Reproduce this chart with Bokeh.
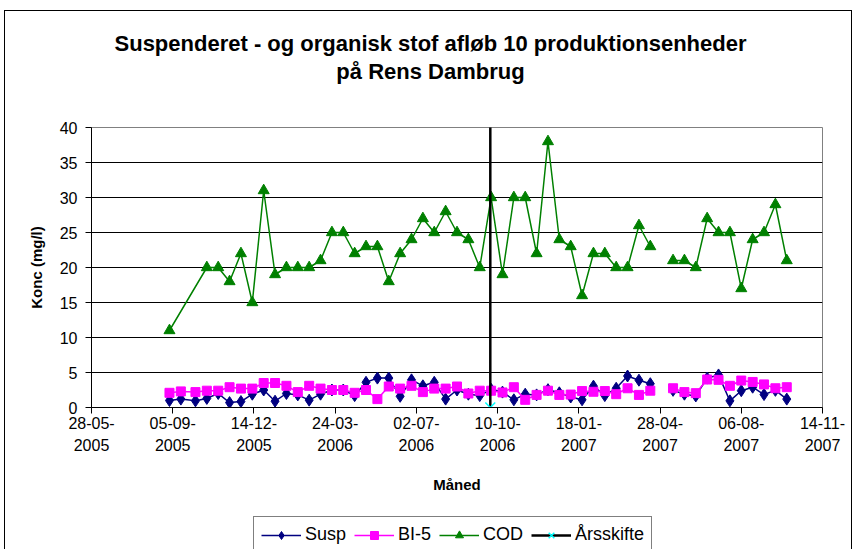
import numpy as np
import pandas as pd
from bokeh.plotting import figure
from bokeh.layouts import column
from bokeh.models import (ColumnDataSource, FixedTicker, DatetimeTickFormatter, Legend,
                          LegendItem, Label, Range1d)
from bokeh.embed import file_html
from bokeh.resources import INLINE

# ---------------- data ----------------
early_dates = ["2005-09-01", "2005-09-15"]
reg_dates = [d.strftime("%Y-%m-%d") for d in pd.date_range("2005-10-03", periods=53, freq="14D")]
sample_dates = early_dates + reg_dates

susp = [1.0, 1.2,
        0.95, 1.3, 2.0, 0.7, 0.85, 1.9, 2.5, 0.9, 2.0, 1.8, 1.05, 1.9, 2.5, 2.5, 1.7, 3.6, 4.2, 4.2,
        1.6, 3.95, 3.1, 3.6, 1.2, 2.5, 1.9, 1.7, 2.6, 2.2, 1.1, 1.9, 1.8, 2.55, 2.1, 1.5, 1.1, 3.05,
        1.7, 2.75, 4.5, 3.9, 3.4, None, 2.45, 1.9, 1.65, 4.2, 4.65, 0.95, 2.4, 2.9, 1.85, 2.45, 1.2]
bi5 = [2.1, 2.3,
       2.2, 2.4, 2.4, 2.9, 2.7, 2.7, 3.5, 3.5, 3.1, 2.2, 3.1, 2.7, 2.5, 2.5, 2.1, 2.5, 1.2, 3.0,
       2.7, 3.1, 2.2, 2.7, 2.7, 3.0, 2.0, 2.4, 2.4, 2.15, 2.9, 1.1, 1.8, 2.4, 1.8, 1.85, 2.35, 2.25,
       2.35, 1.9, 2.75, 1.8, 2.4, None, 2.75, 2.2, 2.05, 4.0, 3.95, 3.1, 3.85, 3.65, 3.3, 2.75, 2.9]

cod_dates = ["2005-09-01"] + reg_dates[1:]
cod = [11,
       20, 20, 18, 22, 15, 31, 19, 20, 20, 20, 21, 25, 25, 22, 23, 23, 18, 22, 24, 27, 25, 28, 25,
       24, 20, 30, 19, 30, 30, 22, 38, 24, 23, 16, 22, 22, 20, 20, 26, 23, None, 21, 21, 20, 27,
       25, 25, 17, 24, 25, 29, 21]

year_change = "2006-10-01"
year_change_y = [0, 41]

tick_dates = ["2005-05-28", "2005-09-05", "2005-12-14", "2006-03-24", "2006-07-02",
              "2006-10-10", "2007-01-18", "2007-04-28", "2007-08-06", "2007-11-14"]
y_ticks = [0, 5, 10, 15, 20, 25, 30, 35, 40]

title_text = "Suspenderet - og organisk stof afløb 10 produktionsenheder\npå Rens Dambrug"
legend_labels = ["Susp", "BI-5", "COD", "Årsskifte"]

# ---------------- build ----------------
def to_nan(v):
    return [np.nan if x is None else x for x in v]

src = ColumnDataSource(dict(x=pd.to_datetime(sample_dates), susp=to_nan(susp), bi5=to_nan(bi5)))
src_cod = ColumnDataSource(dict(x=pd.to_datetime(cod_dates), cod=to_nan(cod)))
yc = pd.Timestamp(year_change)
src_yc = ColumnDataSource(dict(x=[yc, yc], y=year_change_y))

FONT = "Liberation Sans"
C_SUSP, C_BI5, C_COD, C_YC, C_X = "#000080", "#FF00FF", "#008000", "black", "#00FFFF"

p = figure(frame_width=731, frame_height=280,
           x_axis_type="datetime", output_backend="svg", toolbar_location=None,
           x_range=Range1d(pd.Timestamp(tick_dates[0]), pd.Timestamp(tick_dates[-1])),
           y_range=Range1d(0, 40),
           min_border_left=86, min_border_right=29, min_border_top=116, min_border_bottom=100)

p.background_fill_color = "white"
p.border_fill_color = "white"
p.outline_line_color = "#808080"

p.xgrid.visible = False
p.ygrid.grid_line_color = "black"
p.ygrid.grid_line_width = 1

tick_ms = [pd.Timestamp(d).value / 1e6 for d in tick_dates]
p.xaxis.ticker = FixedTicker(ticks=tick_ms)
fmt = "%d-%m-\n%Y"
p.xaxis.formatter = DatetimeTickFormatter(
    microseconds=fmt, milliseconds=fmt, seconds=fmt, minsec=fmt, minutes=fmt, hourmin=fmt,
    hours=fmt, days=fmt, months=fmt, years=fmt)
p.yaxis.ticker = FixedTicker(ticks=y_ticks)

for ax in (p.xaxis[0], p.yaxis[0]):
    ax.axis_line_color = "black"
    ax.major_tick_line_color = "black"
    ax.major_tick_out = 6
    ax.major_tick_in = 0
    ax.minor_tick_line_color = None
    ax.major_label_text_font = FONT
    ax.major_label_text_font_size = "16px"
    ax.major_label_text_color = "black"
    ax.axis_label_text_font = FONT
    ax.axis_label_text_font_size = "15px"
    ax.axis_label_text_font_style = "bold"
    ax.axis_label_text_color = "black"

p.xaxis.axis_label = "Måned"
p.xaxis.major_label_standoff = 1
p.xaxis.major_label_text_line_height = 1.35
p.xaxis.axis_label_standoff = 19
p.yaxis.axis_label = "Konc (mg/l)"
p.yaxis.major_label_standoff = 8
p.yaxis.axis_label_standoff = 12

# series
p.line("x", "susp", source=src, color=C_SUSP, line_width=1.5)
p.scatter("x", "susp", source=src, marker="diamond", size=12, fill_color=C_SUSP, line_color=C_SUSP)
p.line("x", "bi5", source=src, color=C_BI5, line_width=1.5)
p.scatter("x", "bi5", source=src, marker="square", size=9, fill_color=C_BI5, line_color=C_BI5)
p.line("x", "cod", source=src_cod, color=C_COD, line_width=1.5)
p.scatter("x", "cod", source=src_cod, marker="triangle", size=11, fill_color=C_COD, line_color=C_COD)
p.line("x", "y", source=src_yc, color=C_YC, line_width=2.5)
p.scatter(x=[yc], y=[year_change_y[0]], marker="x", size=14, line_color=C_X, line_width=1.5)

# title: one centered two-line label above the plot area
p.add_layout(Label(x=339, y=70, x_units="screen", y_units="screen", text=title_text,
                   text_align="center", text_baseline="middle", text_font=FONT,
                   text_font_size="22px", text_font_style="bold", text_color="black",
                   text_line_height=1.15), "above")

# legend strip below the chart (proxy renderers with the same styles as the series)
lf = figure(width=846, height=50, output_backend="svg", toolbar_location=None,
            x_axis_location=None, y_axis_location=None, min_border=0,
            x_range=Range1d(0, 1), y_range=Range1d(0, 1))
lf.grid.visible = False
lf.outline_line_color = None
lf.background_fill_color = "white"
lf.border_fill_color = "white"
e = dict(x=[np.nan], y=[np.nan])
l1 = lf.line(color=C_SUSP, line_width=1.5, **e)
m1 = lf.scatter(marker="diamond", size=12, fill_color=C_SUSP, line_color=C_SUSP, **e)
l2 = lf.line(color=C_BI5, line_width=1.5, **e)
m2 = lf.scatter(marker="square", size=9, fill_color=C_BI5, line_color=C_BI5, **e)
l3 = lf.line(color=C_COD, line_width=1.5, **e)
m3 = lf.scatter(marker="triangle", size=11, fill_color=C_COD, line_color=C_COD, **e)
l4 = lf.line(color=C_YC, line_width=2.5, **e)
m4 = lf.scatter(marker="x", size=14, line_color=C_X, line_width=1.5, **e)

legend = Legend(items=[
    LegendItem(label=legend_labels[0], renderers=[l1, m1]),
    LegendItem(label=legend_labels[1], renderers=[l2, m2]),
    LegendItem(label=legend_labels[2], renderers=[l3, m3]),
    LegendItem(label=legend_labels[3], renderers=[l4, m4]),
], orientation="horizontal", location=(162, 4))
legend.label_text_font = FONT
legend.label_text_font_size = "18px"
legend.label_text_color = "black"
legend.border_line_color = "black"
legend.border_line_width = 1
legend.glyph_width = 40
legend.glyph_height = 20
legend.label_standoff = 4
legend.spacing = 8
legend.padding = 7
legend.margin = 0
lf.add_layout(legend, "center")

page = column(p, lf, spacing=0,
              styles={"border": "1px solid black", "margin": "10px 0px 0px 4px",
                      "background-color": "white"})

open("out.html", "w").write(file_html(page, INLINE))
